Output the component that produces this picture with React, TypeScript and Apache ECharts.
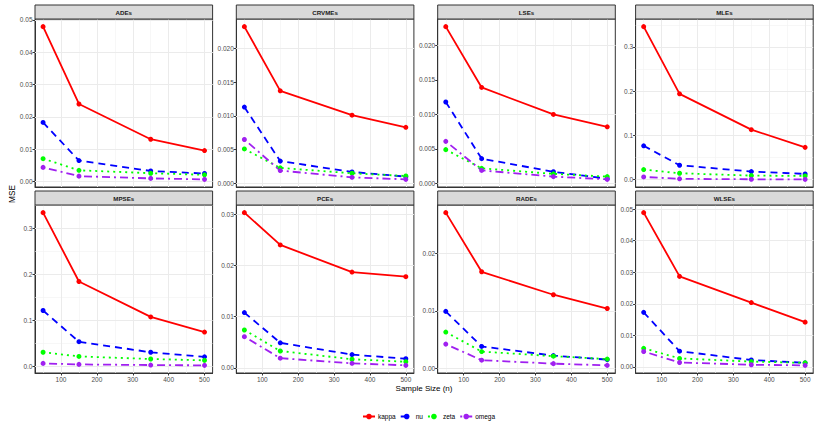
import React, { useEffect, useRef } from "react";
import * as echarts from "echarts";

const sampleSizes = [50, 150, 350, 500];
const xTicks = [100, 200, 300, 400, 500];
const xMinorTicks = [50, 150, 250, 350, 450];
const seriesNames = ["kappa", "nu", "zeta", "omega"];
const panelNames = ["ADEs", "CRVMEs", "LSEs", "MLEs", "MPSEs", "PCEs", "RADEs", "WLSEs"];

// rows: kappa, nu, zeta, omega
const ADEs = [
  [0.0479, 0.024, 0.0131, 0.0096],
  [0.0183, 0.0065, 0.0033, 0.0025],
  [0.0071, 0.0035, 0.0026, 0.0021],
  [0.0044, 0.0017, 0.001, 0.0007],
];
const CRVMEs = [
  [0.0232, 0.0137, 0.0101, 0.0083],
  [0.0113, 0.0033, 0.0017, 0.001],
  [0.0051, 0.0023, 0.0015, 0.0011],
  [0.0065, 0.0019, 0.0009, 0.0006],
];
const LSEs = [
  [0.0227, 0.0139, 0.01, 0.0082],
  [0.0118, 0.0036, 0.0017, 0.0007],
  [0.0049, 0.0022, 0.0014, 0.001],
  [0.0061, 0.0019, 0.001, 0.0006],
];
const MLEs = [
  [0.346, 0.194, 0.113, 0.073],
  [0.0765, 0.0326, 0.0182, 0.0129],
  [0.0227, 0.0144, 0.0091, 0.0083],
  [0.0061, 0.0018, 0.0008, 0.0006],
];
const MPSEs = [
  [0.334, 0.184, 0.107, 0.074],
  [0.121, 0.053, 0.03, 0.02],
  [0.03, 0.021, 0.0153, 0.0124],
  [0.0058, 0.0036, 0.0022, 0.0015],
];
const PCEs = [
  [0.0303, 0.024, 0.0187, 0.0178],
  [0.0108, 0.0049, 0.0026, 0.0018],
  [0.0074, 0.0033, 0.0017, 0.0012],
  [0.0061, 0.0019, 0.0009, 0.0005],
];
const RADEs = [
  [0.0271, 0.0168, 0.0128, 0.0104],
  [0.0099, 0.0038, 0.0022, 0.0015],
  [0.0063, 0.0029, 0.0021, 0.0016],
  [0.0042, 0.0014, 0.0008, 0.0005],
];
const WLSEs = [
  [0.0489, 0.0287, 0.0204, 0.0142],
  [0.0173, 0.005, 0.0022, 0.0013],
  [0.0059, 0.0027, 0.0017, 0.0013],
  [0.0049, 0.0014, 0.0007, 0.0005],
];

const yTicksADEs = [0, 0.01, 0.02, 0.03, 0.04, 0.05];
const yTicksCRVMEs = [0, 0.005, 0.01, 0.015, 0.02];
const yTicksLSEs = [0, 0.005, 0.01, 0.015, 0.02];
const yTicksMLEs = [0, 0.1, 0.2, 0.3];
const yTicksMPSEs = [0, 0.1, 0.2, 0.3];
const yTicksPCEs = [0, 0.01, 0.02, 0.03];
const yTicksRADEs = [0, 0.01, 0.02];
const yTicksWLSEs = [0, 0.01, 0.02, 0.03, 0.04, 0.05];
const yDecimals = [2, 3, 3, 1, 1, 2, 2, 2];

const panelData = [ADEs, CRVMEs, LSEs, MLEs, MPSEs, PCEs, RADEs, WLSEs];
const panelTicks = [yTicksADEs, yTicksCRVMEs, yTicksLSEs, yTicksMLEs, yTicksMPSEs, yTicksPCEs, yTicksRADEs, yTicksWLSEs];

const colors = ["#FF0000", "#0000FF", "#00FF00", "#A020F0"];
const dashes: any[] = ["solid", [7, 5], [2, 4], [2, 4, 8, 4]];

const FONT = "'Liberation Sans', Arial, sans-serif";

export default function App() {
  const ref = useRef<HTMLDivElement>(null);
  useEffect(() => {
    if (!ref.current) return;
    const chart = echarts.init(ref.current, undefined, { renderer: "svg" });

    const colLeft = [35, 236.3, 437.7, 635.6];
    const rowTop = [5, 191];
    const stripH = 14;
    const pw = 177.6;
    const ph = 168;
    const xMin = 50 - 0.05 * 450;
    const xMax = 500 + 0.05 * 450;

    const grids: any[] = [];
    const xAxes: any[] = [];
    const yAxes: any[] = [];
    const series: any[] = [];
    const graphics: any[] = [];

    panelNames.forEach((name, i) => {
      const r = Math.floor(i / 4);
      const c = i % 4;
      const left = colLeft[c];
      const top = rowTop[r] + stripH;
      grids.push({
        left, top, width: pw, height: ph,
        show: true, backgroundColor: "#FFFFFF", borderColor: "#333333", borderWidth: 1,
        containLabel: false,
      });
      const bottomRow = r === 1;
      xAxes.push({
        type: "value", gridIndex: i, min: xMin, max: xMax,
        axisLine: { show: true, onZero: false, lineStyle: { color: "#333333", width: 1 } },
        axisTick: { show: bottomRow, customValues: xTicks, length: 2.5, lineStyle: { color: "#333333", width: 1 } },
        axisLabel: { show: bottomRow, customValues: xTicks, fontSize: 6.5, color: "#4D4D4D", margin: 2.5, fontFamily: FONT },
        splitLine: { show: false },
      });
      const vals = panelData[i].flat();
      const dmin = Math.min(...vals);
      const dmax = Math.max(...vals);
      const pad = 0.05 * (dmax - dmin);
      const yMin = dmin - pad;
      const yMax = dmax + pad;
      const ticks = panelTicks[i];
      const dec = yDecimals[i];
      yAxes.push({
        type: "value", gridIndex: i, min: yMin, max: yMax,
        axisLine: { show: true, onZero: false, lineStyle: { color: "#333333", width: 1 } },
        axisTick: { show: true, customValues: ticks, length: 2.5, lineStyle: { color: "#333333", width: 1 } },
        axisLabel: {
          show: true, customValues: ticks, fontSize: 6.5, color: "#4D4D4D", margin: 2.5, fontFamily: FONT,
          formatter: (v: number) => v.toFixed(dec),
        },
        splitLine: { show: false },
      });
      const step = ticks[1] - ticks[0];
      const yMinor: number[] = [];
      for (let k = -1; k < ticks.length; k++) {
        const v = ticks[0] + (k + 0.5) * step;
        if (v > yMin && v < yMax) yMinor.push(v);
      }
      const gridLines: any[] = [];
      xMinorTicks.forEach((v) => gridLines.push({ xAxis: v, lineStyle: { color: "#F2F2F2", width: 0.6, type: "solid" } }));
      yMinor.forEach((v) => gridLines.push({ yAxis: v, lineStyle: { color: "#F2F2F2", width: 0.6, type: "solid" } }));
      xTicks.forEach((v) => gridLines.push({ xAxis: v, lineStyle: { color: "#EBEBEB", width: 1, type: "solid" } }));
      ticks.forEach((v) => gridLines.push({ yAxis: v, lineStyle: { color: "#EBEBEB", width: 1, type: "solid" } }));
      series.push({
        type: "line", xAxisIndex: i, yAxisIndex: i, data: [], z: 1, silent: true,
        markLine: {
          silent: true, symbol: ["none", "none"], label: { show: false }, z: 1,
          animation: false, data: gridLines,
        },
      });
      seriesNames.forEach((sn, s) => {
        series.push({
          name: sn, type: "line", xAxisIndex: i, yAxisIndex: i, z: 3,
          data: sampleSizes.map((x, k) => [x, panelData[i][s][k]]),
          symbol: "circle", symbolSize: 5, showSymbol: true,
          lineStyle: { color: colors[s], width: 1.8, type: dashes[s] },
          itemStyle: { color: colors[s] },
          emphasis: { disabled: true },
        });
      });
      graphics.push({
        type: "rect", shape: { x: left, y: rowTop[r], width: pw, height: stripH },
        style: { fill: "#D9D9D9", stroke: "#333333", lineWidth: 1 }, z: 10,
      });
      graphics.push({
        type: "text", x: left + pw / 2, y: rowTop[r] + stripH / 2 + 0.5, z: 11,
        style: { text: name, fontSize: 6.2, fontWeight: "bold", fill: "#1A1A1A", align: "center", verticalAlign: "middle", fontFamily: FONT },
      });
    });

    graphics.push({
      type: "text", x: 424, y: 388.5,
      style: { text: "Sample Size (n)", fontSize: 8, fill: "#000000", align: "center", verticalAlign: "middle", fontFamily: FONT },
    });
    graphics.push({
      type: "text", x: 12.7, y: 194, rotation: Math.PI / 2,
      style: { text: "MSE", fontSize: 8.2, fill: "#000000", align: "center", verticalAlign: "middle", fontFamily: FONT },
    });

    chart.setOption({
      animation: false,
      backgroundColor: "#FFFFFF",
      textStyle: { fontFamily: FONT },
      grid: grids,
      xAxis: xAxes,
      yAxis: yAxes,
      series,
      graphic: graphics,
      legend: {
        data: seriesNames, left: 357, top: 408, orient: "horizontal",
        itemWidth: 12, itemHeight: 7, itemGap: 4, selectedMode: false,
        textStyle: { fontSize: 6.5, color: "#000000", fontFamily: FONT, padding: [0, 0, 0, -2] },
      },
    });
    return () => chart.dispose();
  }, []);
  return <div ref={ref} style={{ position: "fixed", left: 0, top: 0, width: 824, height: 423 }} />;
}
